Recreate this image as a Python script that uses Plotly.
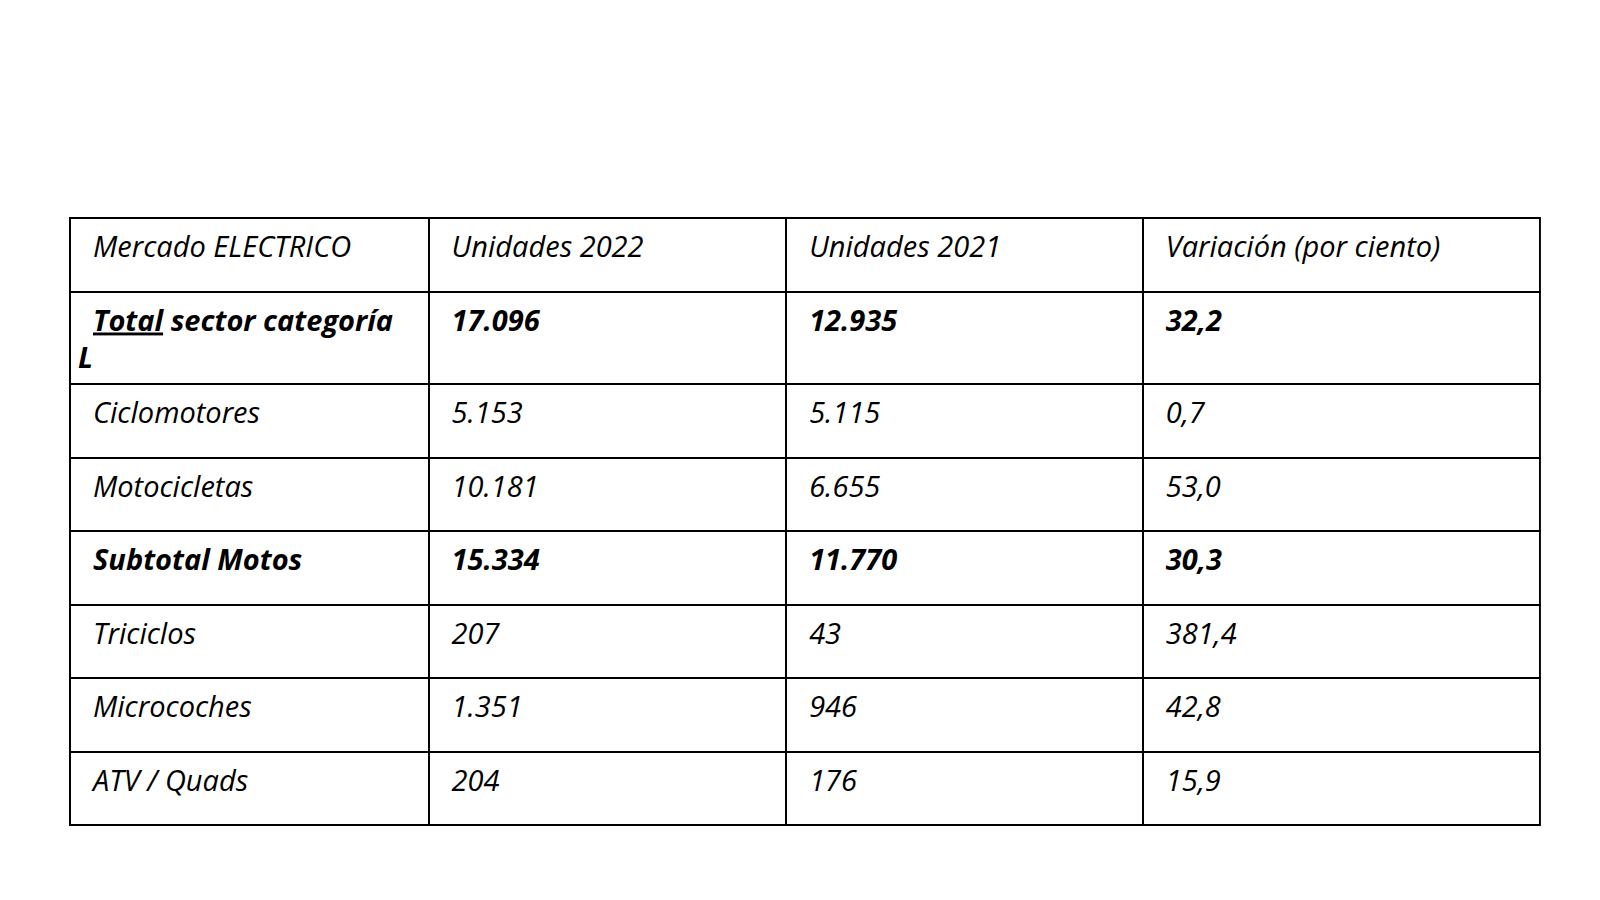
import plotly.graph_objects as go

headers = ["Mercado ELECTRICO", "Unidades 2022", "Unidades 2021", "Variación (por ciento)"]
categories = ["<u>Total</u> sector categoría L", "Ciclomotores", "Motocicletas", "Subtotal Motos",
              "Triciclos", "Microcoches", "ATV / Quads"]
units_2022 = ["17.096", "5.153", "10.181", "15.334", "207", "1.351", "204"]
units_2021 = ["12.935", "5.115", "6.655", "11.770", "43", "946", "176"]
variation = ["32,2", "0,7", "53,0", "30,3", "381,4", "42,8", "15,9"]
bold_rows = [0, 3]

PAD = "&nbsp;&nbsp;"

def fmt(vals):
    out = []
    for i, v in enumerate(vals):
        s = f"<i>{v}</i>"
        if i in bold_rows:
            s = f"<b>{s}</b>"
        out.append(PAD + s)
    return out

W, H = 1600, 900
fig = go.Figure(go.Table(
    columnwidth=[352, 351, 350, 390],
    header=dict(values=[PAD + f"<i>{h}</i>" for h in headers],
                fill_color="white", line=dict(color="black", width=2),
                align="left", height=73.5,
                font=dict(family="Open Sans", size=29, color="black")),
    cells=dict(values=[fmt(categories), fmt(units_2022), fmt(units_2021), fmt(variation)],
               fill_color="white", line=dict(color="black", width=2),
               align="left", height=73.5,
               font=dict(family="Open Sans", size=29, color="black")),
    domain=dict(x=[0.0387, 0.958], y=[0.0, 1 - 210 / H]),
))
fig.update_layout(width=W, height=H, margin=dict(l=0, r=0, t=0, b=0),
                  paper_bgcolor="white")
fig.write_html("out.html")
